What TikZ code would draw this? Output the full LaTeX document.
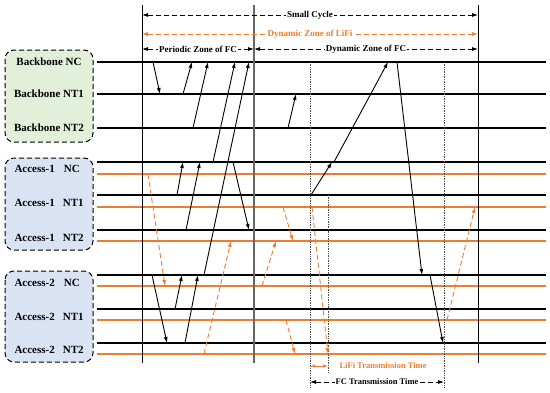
\documentclass[tikz,border=0pt]{standalone}
\usepackage{fontspec}
\setmainfont{Liberation Serif}
\usepackage{tikz}
\usetikzlibrary{arrows.meta}
\definecolor{lorange}{RGB}{237,125,49}
\definecolor{bbgreen}{RGB}{226,239,217}
\definecolor{acblue}{RGB}{218,227,243}

\begin{document}
\begin{tikzpicture}[x=1pt,y=-1pt,
	bline/.style={line width=1.8pt},
	oline/.style={line width=1.8pt,draw=lorange},
	msg/.style={-{Latex[length=6pt,width=4pt]},line width=0.9pt},
	lmsg/.style={msg,draw=lorange,dash pattern=on 5pt off 3pt},
	grpbox/.style={draw,line width=1pt,dash pattern=on 5pt off 3pt,rounded corners=9pt},
	span/.style={{Latex[length=6pt,width=4pt]}-{Latex[length=6pt,width=4pt]},line width=0.8pt,dash pattern=on 5pt off 3pt},
	lbl/.style={font=\fontsize{11}{13}\selectfont\bfseries},
	toplbl/.style={font=\fontsize{9}{11}\selectfont\bfseries,fill=white,inner sep=1pt}]
		\useasboundingbox (0,0) rectangle (550,392);
		% groups
		\draw[grpbox,fill=bbgreen] (5,50) rectangle (93,142);
		\draw[grpbox,fill=acblue] (5,158) rectangle (93,250);
		\draw[grpbox,fill=acblue] (5,271) rectangle (93,362);
		\node[lbl] (bnc) at (49,62) {Backbone NC};
		\node[lbl] (bnt1) at (49,94) {Backbone NT1};
		\node[lbl] (bnt2) at (49,128) {Backbone NT2};
		\node[lbl,right] (anc) at (11,169) {Access-1\hspace{9pt}NC};
		\node[lbl,right] (ant1) at (11,203) {Access-1\hspace{8pt}NT1};
		\node[lbl,right] (ant2) at (11,238) {Access-1\hspace{8pt}NT2};
		\node[lbl,right] (cnc) at (11,283) {Access-2\hspace{9pt}NC};
		\node[lbl,right] (cnt1) at (11,317) {Access-2\hspace{8pt}NT1};
		\node[lbl,right] (cnt2) at (11,350) {Access-2\hspace{8pt}NT2};
		% time lines
		\draw[bline] (97,62)--(546,62);
		\draw[bline] (97,94)--(546,94);
		\draw[bline] (97,128)--(546,128);
		\draw[bline] (97,162)--(546,162);
		\draw[oline] (97,174)--(546,174);
		\draw[bline] (97,195)--(546,195);
		\draw[oline] (97,207)--(546,207);
		\draw[bline] (97,230)--(546,230);
		\draw[oline] (97,241)--(546,241);
		\draw[bline] (97,275)--(546,275);
		\draw[oline] (97,286)--(546,286);
		\draw[bline] (97,309)--(546,309);
		\draw[oline] (97,320)--(546,320);
		\draw[bline] (97,343)--(546,343);
		\draw[oline] (97,354)--(546,354);
		% zone borders
		\draw[line width=0.8pt] (142,5)--(142,363);
		\draw[line width=1.2pt,black!60] (254,5)--(254,363);
		\draw[line width=0.8pt] (478,5)--(478,363);
		\draw[densely dotted,line width=0.7pt,black!70] (310,62)--(310,388);
		\draw[densely dotted,line width=0.7pt,black!70] (328,195)--(328,373);
		\draw[densely dotted,line width=0.7pt,black!70] (444,62)--(444,388);
		% zones
		\draw[span] (142,15)--(478,15) node[midway,toplbl] (cyc) {Small Cycle};
		\draw[span,lorange] (142,34)--(478,34) node[midway,toplbl,text=lorange] (dzl) {Dynamic Zone of LiFi};
		\draw[span] (142,49)--(254,49) node[midway,toplbl] (pzf) {Periodic Zone of FC};
		\draw[span] (254,49)--(478,49) node[midway,toplbl] (dzf) {Dynamic Zone of FC};
		% FC messages
		\draw[msg] (153,62)--(160,94);
		\draw[msg] (183,94)--(192,62);
		\draw[msg] (193,128)--(208,62);
		\draw[msg] (213,162)--(235,62);
		\draw[msg] (204,275)--(249,62);
		\draw[msg] (177,195)--(183,162);
		\draw[msg] (186,230)--(200,162);
		\draw[msg] (233,162)--(249,230);
		\draw[msg] (152,275)--(167,343);
		\draw[msg] (175,309)--(182,275);
		\draw[msg] (185,343)--(198,275);
		\draw[msg] (288,128)--(296,94);
		\draw[msg] (311,195)--(332,162);
		\draw[msg] (334,162)--(388,62);
		\draw[msg] (397,62)--(422,275);
		\draw[msg] (430,275)--(443,343);
		% LiFi messages
		\draw[lmsg] (148,174)--(165,286);
		\draw[lmsg] (204,354)--(231,241);
		\draw[lmsg] (262,286)--(276,241);
		\draw[lmsg] (283,207)--(293,241);
		\draw[lmsg] (286,320)--(295,354);
		\draw[lmsg] (312,207)--(328,354);
		\draw[lmsg] (447,320)--(475,207);
		% transmission times
		\draw[{Latex[length=5pt,width=3.5pt]}-{Latex[length=5pt,width=3.5pt]},line width=0.8pt,lorange] (310,366)--(328,366);
		\node[right,text=lorange,font=\fontsize{8.5}{10}\selectfont\bfseries] (lt) at (336,366) {LiFi Transmission Time};
		\draw[span] (310,382)--(444,382) node[midway,fill=white,inner sep=1pt,font=\fontsize{8.5}{10}\selectfont\bfseries] (ft) {FC Transmission Time};
	\end{tikzpicture}
\end{document}
